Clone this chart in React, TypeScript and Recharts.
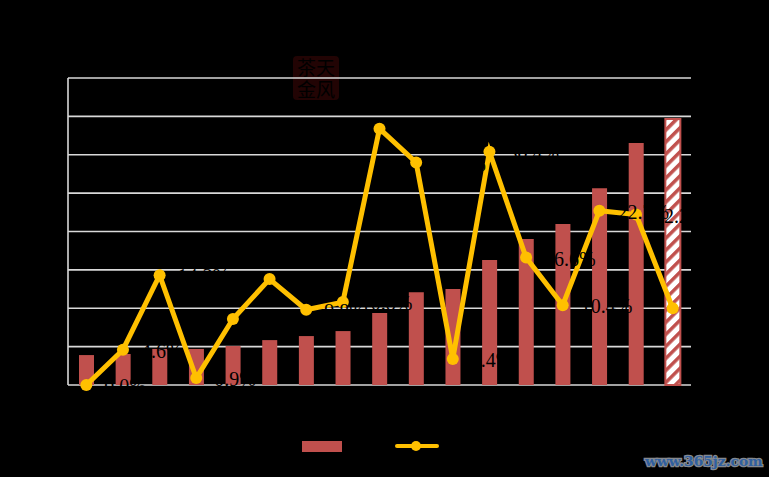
import { Bar, CartesianGrid, Cell, ComposedChart, LabelList, Line, XAxis, YAxis } from "recharts";

// category names are not legible in the reference, so they are just ordinals
const CATEGORIES = ["1", "2", "3", "4", "5", "6", "7", "8", "9", "10", "11", "12", "13", "14", "15", "16", "17"];
const BAR_VALUES = [780, 810, 940, 940, 1015, 1170, 1275, 1405, 1875, 2420, 2500, 3255, 3805, 4195, 5130, 6305, 6930];
const RATE_VALUES = [0.0, 4.6, 14.3, 0.9, 8.6, 13.8, 9.8, 10.8, 33.4, 29.0, 3.4, 30.4, 16.6, 10.4, 22.7, 22.2, 10.0];
const BAR_TICKS = [0, 1000, 2000, 3000, 4000, 5000, 6000, 7000, 8000];

const BAR_COLOR = "#C0504D";
const LINE_COLOR = "#FFC000";
const GRID_COLOR = "#D9D9D9";

const data = CATEGORIES.map((name, i) => ({ name, bar: BAR_VALUES[i], rate: RATE_VALUES[i] }));

function Seal() {
  return (
    <div
      style={{
        position: "absolute",
        left: 293,
        top: 56,
        width: 46,
        height: 44,
        background: "#220404",
        borderRadius: 4,
        color: "#000",
        fontFamily: "'Noto Sans CJK SC'",
        fontSize: 19,
        lineHeight: "22px",
        textAlign: "center",
      }}
    >
      茶天
      <br />
      金风
    </div>
  );
}

function ChartLegend() {
  return (
    <>
      <div style={{ position: "absolute", left: 302, top: 441, width: 40, height: 11, background: BAR_COLOR }} />
      <div style={{ position: "absolute", left: 395, top: 444, width: 44, height: 4, borderRadius: 2, background: LINE_COLOR }} />
      <div style={{ position: "absolute", left: 411, top: 441, width: 10, height: 10, borderRadius: 5, background: LINE_COLOR }} />
    </>
  );
}

export default function App() {
  return (
    <div style={{ position: "absolute", left: 0, top: 0, width: 769, height: 477, background: "#000", overflow: "hidden" }}>
      <Seal />
      <div style={{ position: "absolute", left: 0, top: 0 }}>
        <ComposedChart width={769} height={477} data={data} margin={{ top: 78, right: 78, bottom: 92, left: 8 }} barSize={15}>
          <defs>
            <pattern id="hatch" patternUnits="userSpaceOnUse" width="8.5" height="8.5" patternTransform="rotate(45)">
              <rect width="8.5" height="8.5" fill="#fff" />
              <rect width="3.5" height="8.5" fill={BAR_COLOR} />
            </pattern>
          </defs>
          <CartesianGrid yAxisId="bars" vertical={false} stroke={GRID_COLOR} strokeWidth={1.6} />
          <XAxis dataKey="name" height={0} tick={false} tickLine={false} stroke={GRID_COLOR} strokeWidth={1.6} />
          <YAxis
            yAxisId="bars"
            width={60}
            domain={[0, 8000]}
            ticks={BAR_TICKS}
            tick={{ fill: "#000", fontSize: 12 }}
            tickLine={false}
            stroke={GRID_COLOR}
            strokeWidth={1.6}
          />
          <YAxis yAxisId="rate" orientation="right" width={0} domain={[0, 40]} hide />
          <Bar yAxisId="bars" dataKey="bar" fill={BAR_COLOR} isAnimationActive={false}>
            {data.map((d, i) => (
              <Cell
                key={d.name}
                fill={i === data.length - 1 ? "url(#hatch)" : BAR_COLOR}
                stroke={i === data.length - 1 ? BAR_COLOR : "none"}
                strokeWidth={2}
              />
            ))}
          </Bar>
          <Line
            yAxisId="rate"
            dataKey="rate"
            stroke={LINE_COLOR}
            strokeWidth={5}
            dot={{ r: 6, fill: LINE_COLOR, stroke: LINE_COLOR, strokeWidth: 0 }}
            isAnimationActive={false}
          >
            <LabelList
              dataKey="rate"
              position="right"
              offset={18}
              dy={1}
              fill="#000"
              fontFamily="'Liberation Serif'"
              fontSize={20}
              formatter={(v: number) => `${v.toFixed(1)}%`}
            />
          </Line>
        </ComposedChart>
      </div>
      <ChartLegend />
      <div
        style={{
          position: "absolute",
          left: 645,
          top: 453,
          color: "#2f5f9f",
          fontFamily: "'DejaVu Serif'",
          fontWeight: "bold",
          fontSize: 13.8,
          WebkitTextStroke: "2.5px #85898f",
          paintOrder: "stroke fill",
        }}
      >
        www.365jz.com
      </div>
    </div>
  );
}
